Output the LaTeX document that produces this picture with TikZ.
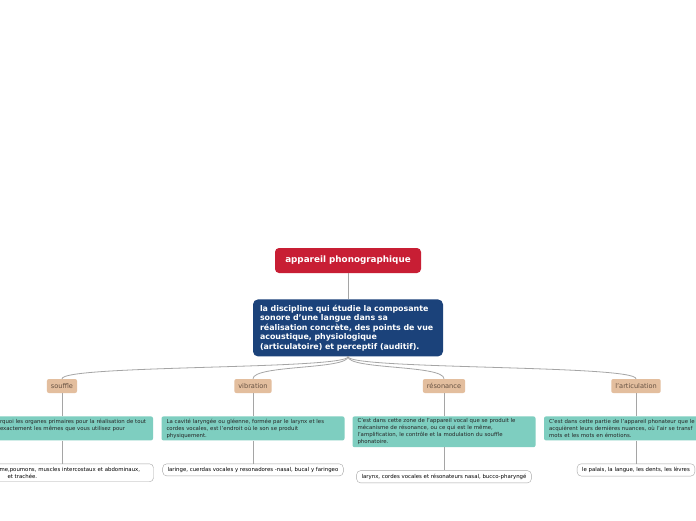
\documentclass[tikz,border=0pt]{standalone}
\usepackage{fontspec}
\setmainfont{DejaVu Sans}
\usetikzlibrary{positioning,calc}
\definecolor{phonored}{RGB}{200,30,52}
\definecolor{phonoblue}{RGB}{27,66,122}
\definecolor{phonotan}{RGB}{227,190,158}
\definecolor{phonobrown}{RGB}{100,80,65}
\definecolor{phonoteal}{RGB}{126,206,192}
\definecolor{phonoline}{RGB}{165,165,165}

\begin{document}
\begin{tikzpicture}[
    x=1pt, y=-1pt,
    node distance=23pt,
    root/.style={rectangle, rounded corners=4pt, fill=phonored, text=white,
        minimum width=146pt, minimum height=25pt,
        font=\fontsize{8.8}{11}\selectfont\bfseries},
    topic/.style={rectangle, rounded corners=5pt, fill=phonoblue, text=white,
        text width=176pt, inner xsep=7pt, minimum height=57pt, align=left,
        font=\fontsize{7.9}{9.4}\selectfont\bfseries},
    branch/.style={rectangle, rounded corners=2pt, fill=phonotan, text=phonobrown,
        minimum height=14pt, inner xsep=4pt, font=\fontsize{6.6}{7.5}\selectfont},
    defbox/.style={rectangle, rounded corners=2pt, fill=phonoteal, text=black!85,
        text width=173pt, inner xsep=5pt, inner ysep=2.3pt, minimum height=24pt,
        align=left, font=\fontsize{5.4}{7}\selectfont},
    exbox/.style={rectangle, rounded corners=4pt, draw=gray!70, fill=white,
        inner xsep=5pt, inner ysep=3.4pt, align=left,
        font=\fontsize{5.4}{7}\selectfont},
    link/.style={draw=phonoline, line width=0.8pt}
]
    \useasboundingbox (0,0) rectangle (696,520);
    \fill[white] (0,0) rectangle (696,520);
    \clip (0,0) rectangle (696,520);

    \node[root] (appareil) at (348,260.5) {appareil phonographique};
    \node[topic, below=26pt of appareil] (discipline) {la discipline qui étudie la composante\\
        sonore d'une langue dans sa\\ réalisation concrète, des points de vue\\
        acoustique, physiologique\\ (articulatoire) et perceptif (auditif).};

    \node[branch] (souffle) at (62,386) {souffle};
    \node[branch] (vibration) at (253,386) {vibration};
    \node[branch] (resonance) at (444,386) {résonance};
    \node[branch] (articulation) at (636,386) {l'articulation};

    \node[defbox, below=of souffle, xshift=12pt, text width=148pt] (souffleDef)
        {rquoi les organes primaires pour la réalisation de tout\\
        exactement les mêmes que vous utilisez pour\\ \mbox{}};
    \node[defbox, below=of vibration] (vibrationDef)
        {La cavité laryngée ou gléenne, formée par le larynx et les\\
        cordes vocales, est l'endroit où le son se produit\\ physiquement.};
    \node[defbox, below=of resonance] (resonanceDef)
        {C'est dans cette zone de l'appareil vocal que se produit le\\
        mécanisme de résonance, ou ce qui est le même,\\
        l'amplification, le contrôle et la modulation du souffle\\ phonatoire.};
    \node[defbox, below=of articulation, text width=174pt] (articulationDef)
        {C'est dans cette partie de l'appareil phonateur que le\\
        acquièrent leurs dernières nuances, où l'air se transf\\
        mots et les mots en émotions.};

    \node[exbox, below=of souffleDef, text width=149pt] (souffleEx)
        {me,poumons, muscles intercostaux et abdominaux,\\ \hspace*{8pt}et trachée.};
    \node[exbox, below=of vibrationDef] (vibrationEx)
        {laringe, cuerdas vocales y resonadores -nasal, bucal y faringeo};
    \node[exbox, below=of resonanceDef] (resonanceEx)
        {larynx, cordes vocales et résonateurs nasal, bucco-pharyngé};
    \node[exbox, below=of articulationDef] (articulationEx)
        {le palais, la langue, les dents, les lèvres};

    \draw[link] (appareil) -- (discipline);
    \foreach \b in {souffle,vibration,resonance,articulation}
        \draw[link] (discipline.south) .. controls +(0,13) and +(0,-14) .. (\b.north);
    \draw[link] (souffle) -- (souffle |- souffleDef.north);
    \draw[link] (souffle |- souffleDef.south) -- (souffle |- souffleEx.north);
    \draw[link] (vibration) -- (vibrationDef);
    \draw[link] (vibrationDef) -- (vibrationEx);
    \draw[link] (resonance) -- (resonanceDef);
    \draw[link] (resonanceDef) -- (resonanceEx);
    \draw[link] (articulation) -- (articulationDef);
    \draw[link] (articulationDef) -- (articulationEx);
\end{tikzpicture}
\end{document}
